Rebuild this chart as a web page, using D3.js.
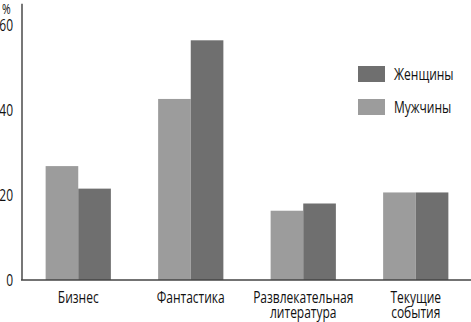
<!DOCTYPE html>
<html>
<head>
<meta charset="utf-8">
<script src="https://cdn.jsdelivr.net/npm/d3@7"></script>
<style>
  html, body { margin: 0; padding: 0; background: #fff; }
  svg { display: block; }
  text { font-family: "Open Sans", "Noto Sans", sans-serif; font-weight: 500; fill: #111; }
</style>
</head>
<body>
<svg id="chart" width="471" height="322"></svg>
<script>
// Categories (two-line labels split by "\n")
const categories = ["Бизнес", "Фантастика", "Развлекательная\nлитература", "Текущие\nсобытия"];
// Series values, percent
const men   = [26.8, 42.6, 16.3, 20.6];
const women = [21.5, 56.4, 18.0, 20.6];
const seriesNames = ["Мужчины", "Женщины"];
const seriesColors = ["#9c9c9c", "#6f6f6f"];
const yTicks = [0, 20, 40, 60];

const svg = d3.select("#chart");
const W = 471, H = 322;
const left = 22, baseY = 280;
const squeeze = 0.75; // horizontal compression giving a condensed typeface look
const fs = 16;

const y = d3.scaleLinear().domain([0, 65]).range([baseY, baseY - 65 * 4.25]);
const x0 = d3.scaleBand().domain(categories).range([left, 472]).paddingInner(0.42).paddingOuter(0.21);
const x1 = d3.scaleBand().domain(seriesNames).range([0, x0.bandwidth()]);

const data = categories.map((c, i) => ({ cat: c, values: [
  { name: seriesNames[0], v: men[i] },
  { name: seriesNames[1], v: women[i] }
]}));

// Bars
const groups = svg.append("g").selectAll("g").data(data).join("g")
  .attr("transform", d => `translate(${x0(d.cat)},0)`);
groups.selectAll("rect").data(d => d.values).join("rect")
  .attr("x", d => x1(d.name))
  .attr("y", d => y(d.v))
  .attr("width", x1.bandwidth())
  .attr("height", d => y(0) - y(d.v))
  .attr("fill", (d, i) => seriesColors[i]);

// Vertical axis line and tick labels
svg.append("line")
  .attr("x1", left).attr("x2", left)
  .attr("y1", y(65)).attr("y2", baseY)
  .attr("stroke", "#777").attr("stroke-width", 2);

const yAxis = d3.axisLeft(y).tickValues(yTicks).tickSize(0).tickPadding(9);
const ya = svg.append("g").attr("transform", `translate(${left},0)`).call(yAxis);
ya.select(".domain").remove();
ya.selectAll("text")
  .attr("font-size", fs).attr("font-family", null).attr("fill", "#111")
  .attr("x", 0)
  .attr("transform", `translate(-9,0) scale(${squeeze},1)`);

svg.append("text").attr("transform", `translate(2,14) scale(${squeeze},1)`)
  .attr("font-size", 14).text("%");

// Baseline
svg.append("line")
  .attr("x1", left - 1).attr("x2", W)
  .attr("y1", baseY).attr("y2", baseY)
  .attr("stroke", "#444").attr("stroke-width", 1.5);

// Category labels
const xl = svg.append("g").selectAll("text").data(categories).join("text")
  .attr("text-anchor", "middle")
  .attr("font-size", fs)
  .attr("transform", d => `translate(${x0(d) + x0.bandwidth() / 2},${baseY + 23}) scale(${squeeze},1)`);
xl.selectAll("tspan").data(d => d.split("\n")).join("tspan")
  .attr("x", 0).attr("dy", (d, i) => i === 0 ? 0 : 15)
  .text(d => d);

// Legend (Женщины first, then Мужчины)
const legendItems = [
  { name: seriesNames[1], color: seriesColors[1] },
  { name: seriesNames[0], color: seriesColors[0] }
];
const lg = svg.append("g").selectAll("g").data(legendItems).join("g")
  .attr("transform", (d, i) => `translate(358,${66 + i * 33})`);
lg.append("rect").attr("width", 27).attr("height", 16).attr("fill", d => d.color);
lg.append("text").attr("transform", `translate(36,8) scale(${squeeze},1)`).attr("dy", "0.35em")
  .attr("font-size", fs).text(d => d.name);
</script>
</body>
</html>
